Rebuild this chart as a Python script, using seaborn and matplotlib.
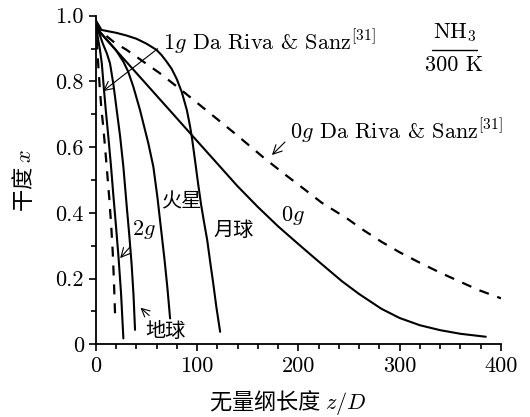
import matplotlib
matplotlib.use("Agg")
import matplotlib.pyplot as plt
import seaborn as sns

# 0g, 本文计算 (实线)
x_0g = [0, 4, 20, 40, 60, 80, 95, 120, 140, 160, 180, 200, 220, 243, 260, 282, 300, 320, 340, 360, 385]
y_0g = [0.985, 0.95, 0.895, 0.826, 0.757, 0.688, 0.636, 0.55, 0.481, 0.418, 0.359, 0.305, 0.252, 0.192,
        0.153, 0.108, 0.08, 0.058, 0.043, 0.032, 0.023]

# 月球
x_moon = [0, 5, 10, 20, 30, 40, 50, 60, 65, 70, 75, 80, 85, 90, 93, 95, 98, 101, 104, 107, 110, 113,
          116, 119, 122.8]
y_moon = [0.985, 0.957, 0.954, 0.948, 0.94, 0.93, 0.915, 0.896, 0.88, 0.86, 0.838, 0.807, 0.767,
          0.712, 0.665, 0.628, 0.56, 0.49, 0.425, 0.37, 0.318, 0.25, 0.185, 0.115, 0.038]

# 火星
x_mars = [0, 3, 10, 20, 27.3, 32, 37.1, 43.7, 48, 51.9, 56.9, 61, 64.5, 68, 70.8, 73.4]
y_mars = [0.985, 0.955, 0.93, 0.895, 0.86, 0.83, 0.784, 0.713, 0.66, 0.612, 0.54, 0.445, 0.35, 0.255,
          0.17, 0.079]

# 地球 (1g)
x_earth = [0, 3, 7, 11, 14.1, 17.5, 20.7, 24, 27.3, 30.6, 33.2, 35.5, 37.3, 38.8]
y_earth = [0.985, 0.95, 0.915, 0.885, 0.855, 0.79, 0.713, 0.635, 0.54, 0.42, 0.33, 0.24, 0.15, 0.044]

# 2g
x_2g = [0, 2, 4, 6, 8, 10, 12.5, 15, 17.5, 20, 22.5, 25, 27.3]
y_2g = [0.985, 0.935, 0.9, 0.855, 0.78, 0.71, 0.63, 0.545, 0.45, 0.36, 0.265, 0.155, 0.018]

# Da Riva & Sanz 0g (虚线)
x_dr0 = [0, 8, 18.5, 30, 43.4, 63.2, 86, 108, 136, 165, 185, 205, 223, 248, 264, 282, 300, 320,
         340, 360, 378, 400]
y_dr0 = [0.985, 0.945, 0.918, 0.897, 0.868, 0.825, 0.77, 0.715, 0.645, 0.57, 0.521, 0.474, 0.431,
         0.383, 0.348, 0.312, 0.28, 0.248, 0.218, 0.19, 0.165, 0.14]

# Da Riva & Sanz 1g (虚线)
x_dr1 = [0, 1, 2.3, 3.8, 5.5, 7.5, 9.5, 11.5, 13.5, 15.3, 16.8, 18, 19.1]
y_dr1 = [0.985, 0.93, 0.86, 0.79, 0.72, 0.66, 0.59, 0.515, 0.44, 0.36, 0.28, 0.19, 0.09]

xticks = [0, 100, 200, 300, 400]
yticks = [0, 0.2, 0.4, 0.6, 0.8, 1.0]
yticklabels = ["0", "0.2", "0.4", "0.6", "0.8", "1.0"]

sns.set_theme(style="ticks")
plt.rcParams["font.family"] = ["Noto Sans CJK SC", "DejaVu Sans"]
plt.rcParams["mathtext.fontset"] = "cm"
plt.rcParams["lines.dashed_pattern"] = [4.5, 4]
plt.rcParams["text.color"] = "black"
plt.rcParams["axes.labelcolor"] = "black"
CM = ["cmr10", "DejaVu Serif"]

fig = plt.figure(figsize=(5.3, 4.17), dpi=100)
ax = fig.add_axes([0.1806, 0.1743, 0.7647, 0.7881])

solid = [(x_0g, y_0g), (x_moon, y_moon), (x_mars, y_mars), (x_earth, y_earth), (x_2g, y_2g)]
for xs, ys in solid:
    sns.lineplot(x=xs, y=ys, ax=ax, color="black", lw=1.5, sort=False, estimator=None)
for xs, ys in [(x_dr0, y_dr0), (x_dr1, y_dr1)]:
    sns.lineplot(x=xs, y=ys, ax=ax, color="black", lw=1.6, ls="--", sort=False, estimator=None)

ax.set_xlim(0, 400)
ax.set_ylim(0, 1.0)
ax.set_xticks(xticks)
ax.set_xticklabels([str(t) for t in xticks], fontfamily=CM)
ax.set_yticks(yticks)
ax.set_yticklabels(yticklabels, fontfamily=CM)
ax.set_xticks(range(0, 401, 20), minor=True)
ax.set_yticks([0.1, 0.3, 0.5, 0.7, 0.9], minor=True)
ax.tick_params(which="major", direction="out", length=5, width=1.2, labelsize=16, colors="black")
ax.tick_params(which="minor", direction="out", length=3.5, width=1.2, colors="black")
sns.despine(ax=ax)
for s in ["left", "bottom"]:
    ax.spines[s].set_linewidth(1.3)
    ax.spines[s].set_color("black")

ax.set_xlabel("无量纲长度 $z/D$", fontsize=16, va="center")
ax.xaxis.set_label_coords(0.474, -0.178)
ax.set_ylabel("干度 $x$", fontsize=16, va="center")
ax.yaxis.set_label_coords(-0.177, 0.5)

fs = 16
fc = 14.5
arrow = dict(arrowstyle="->", color="black", lw=0.8)
ax.annotate(r"$1g$ Da Riva & Sanz$^{[31]}$", xy=(5, 0.765), xytext=(66.5, 0.921), fontfamily=CM,
            fontsize=fs, va="center", ha="left", arrowprops=dict(arrow, relpos=(0, 0.4)))
ax.annotate(r"$0g$ Da Riva & Sanz$^{[31]}$", xy=(172, 0.57), xytext=(192, 0.649), fontfamily=CM,
            fontsize=fs, va="center", ha="left", arrowprops=dict(arrow, relpos=(0, 0.3)))
ax.annotate(r"$2g$", xy=(22.3, 0.256), xytext=(47.7, 0.348), fontsize=fs, va="center", ha="center",
            arrowprops=dict(arrow, relpos=(0.2, 0.1)))
ax.annotate("地球", xy=(42.1, 0.117), xytext=(68.4, 0.04), fontsize=fc, va="center", ha="center",
            arrowprops=dict(arrow, relpos=(0.25, 1)))
ax.text(85, 0.434, "火星", fontsize=fc, ha="center", va="center")
ax.text(135.6, 0.345, "月球", fontsize=fc, ha="center", va="center")
ax.text(195, 0.393, r"$0g$", fontsize=fs, ha="center", va="center")

ax.text(354, 0.95, r"NH$_3$", fontsize=fs, ha="center", va="center", fontfamily=CM)
ax.plot([331.5, 376], [0.895, 0.895], color="black", lw=1.0)
ax.text(354, 0.85, "300 K", fontsize=fs, ha="center", va="center", fontfamily=CM)

fig.savefig("out.png", dpi=100)
